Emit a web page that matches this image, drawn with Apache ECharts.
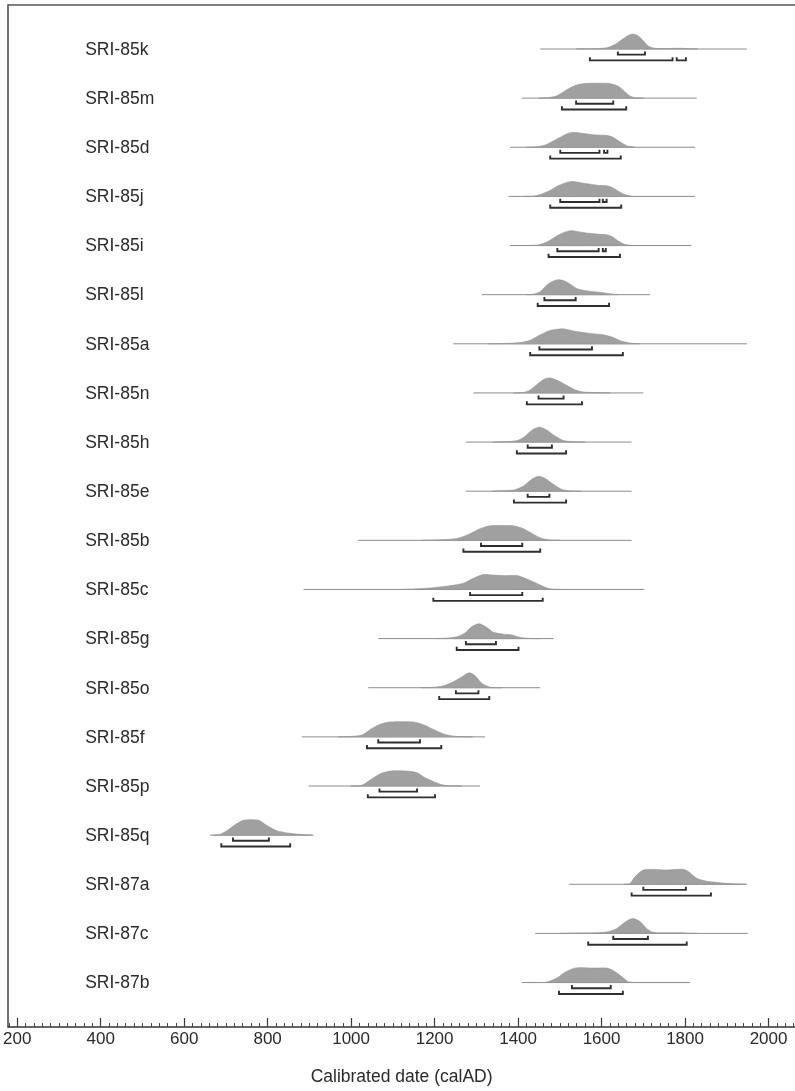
<!DOCTYPE html>
<html>
<head>
<meta charset="utf-8">
<script src="https://cdn.jsdelivr.net/npm/echarts@6/dist/echarts.min.js"></script>
<style>
html,body{margin:0;padding:0;background:#fff;}
#chart{width:795px;height:1091px;}
</style>
</head>
<body>
<div id="chart"></div>
<script>
// ---- data ----
const sampleNames = ['SRI-85k','SRI-85m','SRI-85d','SRI-85j','SRI-85i','SRI-85l','SRI-85a','SRI-85n','SRI-85h','SRI-85e',
  'SRI-85b','SRI-85c','SRI-85g','SRI-85o','SRI-85f','SRI-85p','SRI-85q','SRI-87a','SRI-87c','SRI-87b'];

// extent of the thin baseline for each likelihood (calAD)
const lineRanges = [[1453,1948],[1409,1828],[1381,1824],[1377,1824],[1380,1815],[1313,1716],[1245,1948],[1293,1700],[1275,1672],[1275,1672],
  [1017,1672],[886,1702],[1065,1485],[1041,1453],[882,1321],[898,1309],[662,910],[1523,1948],[1441,1950],[1409,1812]];

// relative probability density [year, relative height]
const densities = [
  [[1540,0],[1590,0.03],[1615,0.1],[1635,0.35],[1650,0.65],[1665,0.92],[1675,1],[1688,0.88],[1700,0.55],[1712,0.2],[1725,0.06],[1750,0.03],[1785,0.05],[1805,0.03],[1830,0]],
  [[1450,0],[1470,0.03],[1490,0.12],[1505,0.35],[1520,0.62],[1540,0.88],[1560,0.98],[1580,1.0],[1610,1.0],[1625,0.95],[1640,0.8],[1655,0.45],[1668,0.15],[1680,0.03],[1700,0]],
  [[1420,0],[1445,0.03],[1465,0.15],[1480,0.35],[1500,0.65],[1515,0.88],[1530,1.0],[1555,0.93],[1585,0.83],[1610,0.8],[1625,0.7],[1645,0.35],[1662,0.08],[1680,0]],
  [[1415,0],[1440,0.03],[1460,0.2],[1480,0.45],[1495,0.7],[1515,0.92],[1531,1.0],[1550,0.92],[1565,0.85],[1596,0.73],[1612,0.72],[1624,0.62],[1640,0.35],[1655,0.12],[1672,0]],
  [[1425,0],[1450,0.05],[1470,0.25],[1485,0.5],[1500,0.75],[1515,0.93],[1529,1.0],[1550,0.9],[1570,0.82],[1595,0.75],[1612,0.72],[1625,0.6],[1640,0.3],[1655,0.08],[1670,0]],
  [[1420,0],[1437,0.03],[1453,0.2],[1469,0.65],[1485,0.92],[1497,1.0],[1510,0.93],[1525,0.7],[1540,0.42],[1555,0.3],[1575,0.22],[1600,0.15],[1620,0.06],[1640,0]],
  [[1330,0],[1365,0.02],[1405,0.08],[1430,0.25],[1453,0.6],[1475,0.88],[1495,0.98],[1510,1.0],[1540,0.82],[1572,0.7],[1604,0.6],[1625,0.45],[1645,0.2],[1668,0.05],[1690,0]],
  [[1390,0],[1413,0.03],[1429,0.2],[1449,0.65],[1465,0.95],[1477,1.0],[1493,0.85],[1517,0.5],[1537,0.2],[1556,0.06],[1590,0.02],[1620,0]],
  [[1340,0],[1380,0.04],[1400,0.12],[1415,0.35],[1433,0.8],[1451,1.0],[1469,0.8],[1489,0.4],[1509,0.1],[1533,0.02],[1560,0]],
  [[1340,0],[1375,0.04],[1393,0.1],[1413,0.35],[1433,0.8],[1449,1.0],[1465,0.85],[1485,0.45],[1505,0.12],[1525,0.02],[1550,0]],
  [[1170,0],[1205,0.03],[1240,0.08],[1261,0.18],[1285,0.45],[1309,0.78],[1333,0.98],[1360,1.0],[1389,0.98],[1413,0.78],[1437,0.4],[1457,0.12],[1477,0.02],[1500,0]],
  [[1120,0],[1157,0.04],[1197,0.12],[1237,0.25],[1269,0.42],[1293,0.75],[1317,1.0],[1341,0.97],[1365,0.93],[1397,0.93],[1421,0.7],[1445,0.4],[1469,0.1],[1485,0.02],[1510,0]],
  [[1200,0],[1229,0.03],[1253,0.12],[1273,0.38],[1289,0.8],[1307,1.0],[1325,0.75],[1341,0.42],[1365,0.3],[1385,0.25],[1405,0.08],[1429,0.01],[1450,0]],
  [[1170,0],[1197,0.03],[1221,0.13],[1245,0.4],[1265,0.72],[1283,1.0],[1297,0.8],[1313,0.3],[1333,0.03],[1360,0]],
  [[970,0],[998,0.03],[1026,0.12],[1046,0.5],[1070,0.85],[1093,1.0],[1149,1.0],[1173,0.82],[1197,0.5],[1221,0.2],[1245,0.05],[1269,0.01],[1290,0]],
  [[1000,0],[1026,0.05],[1046,0.4],[1069,0.8],[1093,1.0],[1133,1.0],[1157,0.9],[1173,0.62],[1197,0.3],[1221,0.06],[1245,0.01],[1265,0]],
  [[670,0],[686,0.05],[702,0.3],[718,0.62],[742,1.0],[778,1.0],[798,0.65],[822,0.3],[854,0.12],[886,0.03],[905,0]],
  [[1655,0],[1668,0.05],[1680,0.5],[1700,0.95],[1724,1.0],[1756,0.96],[1796,1.0],[1808,0.85],[1828,0.4],[1852,0.2],[1884,0.1],[1916,0.03],[1945,0]],
  [[1500,0],[1525,0.02],[1590,0.05],[1613,0.1],[1636,0.32],[1656,0.75],[1674,1.0],[1692,0.8],[1708,0.32],[1724,0.07],[1760,0.04],[1788,0.04],[1812,0.01],[1830,0]],
  [[1445,0],[1469,0.03],[1493,0.3],[1513,0.7],[1533,0.95],[1549,1.0],[1581,0.97],[1612,0.97],[1628,0.8],[1648,0.4],[1664,0.06],[1680,0]]
];

// highest posterior density ranges
const hpd68 = [[[1639,1704]],[[1539,1628]],[[1501,1595],[1606,1614]],[[1501,1595],[1603,1612]],[[1494,1593],[1603,1610]],[[1463,1538]],[[1451,1577]],[[1449,1509]],[[1423,1481]],[[1423,1475]],
  [[1311,1410]],[[1285,1410]],[[1275,1347]],[[1251,1305]],[[1065,1165]],[[1068,1158]],[[717,803]],[[1700,1802]],[[1628,1711]],[[1529,1622]]];
const hpd95 = [[[1572,1770],[1780,1802]],[[1505,1659]],[[1477,1646]],[[1477,1647]],[[1473,1644]],[[1447,1618]],[[1429,1651]],[[1421,1553]],[[1397,1515]],[[1390,1515]],
  [[1269,1453]],[[1197,1459]],[[1253,1401]],[[1211,1331]],[[1038,1216]],[[1040,1201]],[[689,854]],[[1672,1862]],[[1568,1804]],[[1498,1651]]];

const majorTicks = [200,400,600,800,1000,1200,1400,1600,1800,2000];
const minorTicks = [];
for (let v = 180; v <= 2060; v += 20) minorTicks.push(v);

// ---- chart ----
const X_MIN = 178.44, X_MAX = 2063.4;
const PEAK = 0.303;   // height of a normalised peak, in row units
const OFF68 = 0.115, OFF95 = 0.232, CAP = 0.065;
const FONT = "'Liberation Sans', Arial, Helvetica, sans-serif";

const chart = echarts.init(document.getElementById('chart'), null, {renderer: 'canvas'});

function renderItem(params, api) {
  const i = api.value(1);
  const cs = params.coordSys;
  const children = [];
  const r = lineRanges[i];
  const a = api.coord([r[0], i]), b = api.coord([r[1], i]);
  children.push({type: 'line', shape: {x1: a[0], y1: a[1], x2: b[0], y2: b[1]},
    style: {stroke: '#8c8c8c', lineWidth: 1}});
  const pts = densities[i].map(d => api.coord([d[0], i - d[1] * PEAK]));
  children.push({type: 'polygon', shape: {points: pts, smooth: 0.25},
    style: {fill: '#a0a0a0', stroke: '#949494', lineWidth: 0.6}});
  const bracket = (rg, off) => {
    const p1 = api.coord([rg[0], i + off]), p2 = api.coord([rg[1], i + off]);
    const t1 = api.coord([rg[0], i + off - CAP]);
    return {type: 'polyline', shape: {points: [[p1[0], t1[1]], p1, p2, [p2[0], t1[1]]]},
      style: {stroke: '#2f2f2f', lineWidth: 1.9, fill: null}};
  };
  hpd68[i].forEach(rg => children.push(bracket(rg, OFF68)));
  hpd95[i].forEach(rg => children.push(bracket(rg, OFF95)));
  const c = api.coord([X_MIN, i]);
  children.push({type: 'text', x: cs.x + 77, y: c[1] + 1,
    style: {text: sampleNames[i], fill: '#2a2a2a', font: '17.5px ' + FONT, textAlign: 'left', textVerticalAlign: 'middle'}});
  return {type: 'group', children: children};
}

const option = {
  animation: false,
  backgroundColor: '#ffffff',
  grid: {left: 8, right: 0, top: 5, bottom: 57, containLabel: false},
  xAxis: [
    {type: 'value', position: 'bottom', min: X_MIN, max: X_MAX,
     axisLine: {show: true, onZero: false, lineStyle: {color: '#333', width: 1.5}},
     axisTick: {show: true, inside: true, length: 9, customValues: majorTicks, lineStyle: {color: '#333', width: 1.2}},
     axisLabel: {show: true, customValues: majorTicks, formatter: v => String(v), fontSize: 17, fontFamily: FONT, color: '#2a2a2a', margin: 4},
     splitLine: {show: false},
     name: 'Calibrated date (calAD)', nameLocation: 'middle', nameGap: 41,
     nameTextStyle: {fontSize: 17.5, fontFamily: FONT, color: '#2a2a2a'}},
    {type: 'value', position: 'bottom', min: X_MIN, max: X_MAX,
     axisLine: {show: false, onZero: false},
     axisTick: {show: true, inside: true, length: 4, customValues: minorTicks, lineStyle: {color: '#444', width: 1}},
     axisLabel: {show: false}, splitLine: {show: false}},
    {type: 'value', position: 'top', min: X_MIN, max: X_MAX,
     axisLine: {show: true, onZero: false, lineStyle: {color: '#555', width: 1.5}},
     axisTick: {show: false}, axisLabel: {show: false}, splitLine: {show: false}}
  ],
  yAxis: {type: 'value', inverse: true, min: -0.8955, max: 19.905,
    axisLine: {show: true, onZero: false, lineStyle: {color: '#444', width: 1.5}},
    axisTick: {show: false}, axisLabel: {show: false}, splitLine: {show: false}},
  series: [{
    type: 'custom', xAxisIndex: 0, yAxisIndex: 0, clip: false,
    renderItem: renderItem,
    encode: {x: 0, y: 1},
    data: sampleNames.map((n, i) => [lineRanges[i][0], i])
  }]
};
chart.setOption(option);
</script>
</body>
</html>
